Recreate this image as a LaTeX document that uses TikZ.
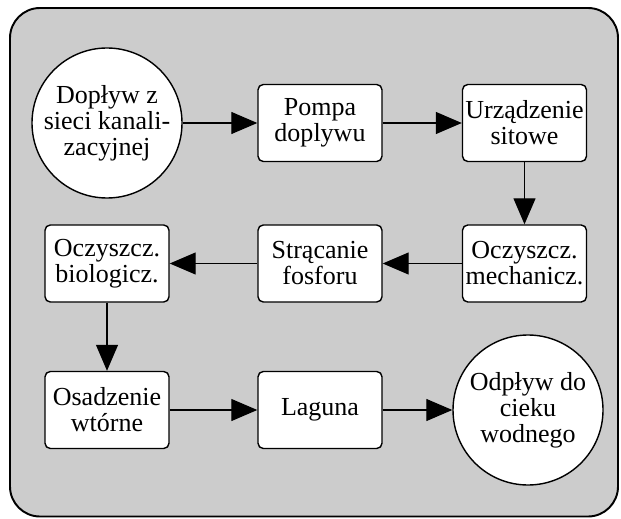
\documentclass[tikz,border=0pt]{standalone}
\usepackage{fontspec}
\setmainfont{Liberation Serif}
\newfontfamily\stagefont{Liberation Serif}
\usetikzlibrary{arrows.meta}

\begin{document}
\begin{tikzpicture}[
  stage/.style={draw, fill=white, rounded corners=3pt, line width=0.8pt,
    minimum width=2.48cm, minimum height=1.54cm, align=center, inner sep=0pt,
    font=\stagefont\fontsize{14.8}{14.8}\selectfont},
  endpoint/.style={draw, fill=white, circle, line width=0.8pt,
    minimum size=3cm, align=center, inner sep=0pt,
    font=\stagefont\fontsize{14.8}{14.8}\selectfont},
  flow/.style={line width=0.7pt, -{Triangle[length=0.52cm,width=0.44cm]}}
]

\useasboundingbox (0,0) rectangle (12.42,10.36);
\draw[line width=1.1pt, fill=black!20, rounded corners=0.6cm] (0.2,0.03) rectangle (12.36,10.2);

% top row
\node[endpoint] (in) at (2.14, 7.90) {Dopływ z\\sieci kanali-\\zacyjnej};
\node[stage] (pompa) at (6.40, 7.90) {Pompa\\doplywu};
\node[stage] (sito) at (10.49, 7.90) {Urządzenie\\sitowe};

% middle row
\node[stage] (mech) at (10.49, 5.09) {Oczyszcz.\\mechanicz.};
\node[stage] (fosfor) at (6.40, 5.09) {Strącanie\\fosforu};
\node[stage] (bio) at (2.14, 5.09) {Oczyszcz.\\biologicz.};

% bottom row
\node[stage] (osad) at (2.14, 2.16) {Osadzenie\\wtórne};
\node[stage] (laguna) at (6.40, 2.16) {Laguna};
\node[endpoint] (out) at (10.56, 2.16) {Odpływ do\\cieku\\wodnego};

\draw[flow] (in) -- (pompa);
\draw[flow] (pompa) -- (sito);
\draw[flow] (sito) -- (mech);
\draw[flow] (mech) -- (fosfor);
\draw[flow] (fosfor) -- (bio);
\draw[flow] (bio) -- (osad);
\draw[flow] (osad) -- (laguna);
\draw[flow] (laguna) -- (out);

\end{tikzpicture}
\end{document}
